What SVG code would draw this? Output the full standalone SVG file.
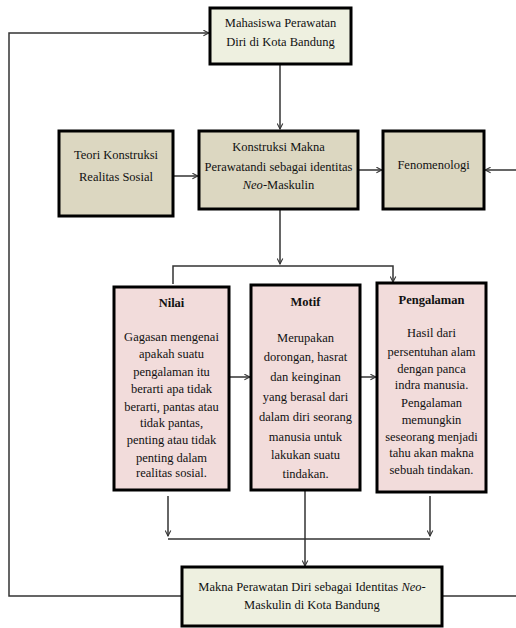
<svg xmlns="http://www.w3.org/2000/svg" width="516" height="628" viewBox="0 0 516 628">
<defs>
<marker id="ar" viewBox="0 0 10 10" refX="9" refY="5" markerWidth="7" markerHeight="7" orient="auto" markerUnits="userSpaceOnUse">
<path d="M1,1 L9,5 L1,9" fill="none" stroke="#333" stroke-width="1.5"/>
</marker>
<style>
.box{stroke:#000;stroke-width:3}
.g{fill:#eef0e0}
.t{fill:#dcd7c1}
.p{fill:#f2dcdb}
.c{fill:none;stroke:#333;stroke-width:1.5}
text{font-size:12.5px;fill:#111;text-anchor:middle}
.b{font-weight:bold}
</style>
</defs>
<rect width="516" height="628" fill="#fff"/>
<g id="connectors">
<polyline class="c" points="182,596 9,596 9,33 209,33" marker-end="url(#ar)"/>
<line class="c" x1="442" y1="596" x2="516" y2="596"/>
<line class="c" x1="280" y1="64" x2="280" y2="129" marker-end="url(#ar)"/>
<line class="c" x1="173" y1="176" x2="198" y2="176" marker-end="url(#ar)"/>
<line class="c" x1="358" y1="170" x2="382" y2="170" marker-end="url(#ar)"/>
<line class="c" x1="516" y1="170" x2="485" y2="170" marker-end="url(#ar)"/>
<line class="c" x1="280" y1="209" x2="280" y2="264" marker-end="url(#ar)"/>
<polyline class="c" points="173,284 173,266 393,266 393,282" marker-end="url(#ar)"/>
<line class="c" x1="229" y1="377" x2="250" y2="377" marker-end="url(#ar)"/>
<line class="c" x1="360" y1="377" x2="376" y2="377" marker-end="url(#ar)"/>
<line class="c" x1="168" y1="496" x2="168" y2="536" marker-end="url(#ar)"/>
<line class="c" x1="430" y1="496" x2="430" y2="536" marker-end="url(#ar)"/>
<line class="c" x1="168" y1="539" x2="430" y2="539"/>
<line class="c" x1="305" y1="490" x2="305" y2="566" marker-end="url(#ar)"/>
</g>
<g font-family="'Liberation Serif', 'Times New Roman', serif">
<g id="mahasiswa">
<rect class="box g" x="210" y="8" width="141" height="56"/>
<text x="280.5" y="27">Mahasiswa Perawatan</text>
<text x="280.5" y="46">Diri di Kota Bandung</text>
</g>
<g id="teori">
<rect class="box t" x="59" y="131" width="114" height="85"/>
<text x="116" y="159">Teori Konstruksi</text>
<text x="116" y="181">Realitas Sosial</text>
</g>
<g id="konstruksi">
<rect class="box t" x="199" y="131" width="159" height="78"/>
<text x="278.5" y="151">Konstruksi Makna</text>
<text x="278.5" y="171">Perawatandi sebagai identitas</text>
<text x="278.5" y="189"><tspan font-style="italic">Neo</tspan>-Maskulin</text>
</g>
<g id="fenomenologi">
<rect class="box t" x="383" y="131" width="101" height="78"/>
<text x="433.5" y="169">Fenomenologi</text>
</g>
<g id="nilai">
<rect class="box p" x="114" y="287" width="115" height="203"/>
<text class="b" x="171.5" y="307">Nilai</text>
<text x="171.5" y="341">Gagasan mengenai</text>
<text x="171.5" y="358">apakah suatu</text>
<text x="171.5" y="376">pengalaman itu</text>
<text x="171.5" y="393">berarti apa tidak</text>
<text x="171.5" y="411">berarti, pantas atau</text>
<text x="171.5" y="427">tidak pantas,</text>
<text x="171.5" y="444">penting atau tidak</text>
<text x="171.5" y="462">penting dalam</text>
<text x="171.5" y="477">realitas sosial.</text>
</g>
<g id="motif">
<rect class="box p" x="251" y="285" width="109" height="205"/>
<text class="b" x="305.5" y="306">Motif</text>
<text x="305.5" y="342">Merupakan</text>
<text x="305.5" y="361">dorongan, hasrat</text>
<text x="305.5" y="381">dan  keinginan</text>
<text x="305.5" y="401">yang berasal dari</text>
<text x="305.5" y="421">dalam diri seorang</text>
<text x="305.5" y="441">manusia untuk</text>
<text x="305.5" y="459">lakukan suatu</text>
<text x="305.5" y="478">tindakan.</text>
</g>
<g id="pengalaman">
<rect class="box p" x="377" y="283" width="109" height="209"/>
<text class="b" x="431.5" y="304">Pengalaman</text>
<text x="431.5" y="337">Hasil dari</text>
<text x="431.5" y="356">persentuhan alam</text>
<text x="431.5" y="373">dengan panca</text>
<text x="431.5" y="389">indra manusia.</text>
<text x="431.5" y="407">Pengalaman</text>
<text x="431.5" y="424">memungkin</text>
<text x="431.5" y="441">seseorang menjadi</text>
<text x="431.5" y="457">tahu akan makna</text>
<text x="431.5" y="474">sebuah tindakan.</text>
</g>
<g id="makna">
<rect class="box g" x="182" y="567" width="260" height="59"/>
<text x="312" y="591">Makna Perawatan Diri sebagai Identitas <tspan font-style="italic">Neo</tspan>-</text>
<text x="312" y="609">Maskulin di Kota Bandung</text>
</g>
</g>
</svg>
